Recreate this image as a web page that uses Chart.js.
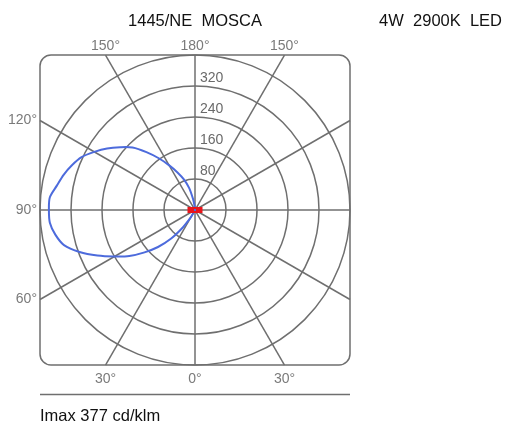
<!DOCTYPE html>
<html>
<head>
<meta charset="utf-8">
<script src="https://cdn.jsdelivr.net/npm/chart.js@4/dist/chart.umd.min.js"></script>
<style>
    html, body { margin: 0; padding: 0; background: #fff; }
    #wrap { width: 505px; height: 426px; }
</style>
</head>
<body>
<div id="wrap"><canvas id="polar" width="505" height="426"></canvas></div>
<script>
/* ================= DATA ================= */
const gammaAngles = [20, 25, 30, 35, 40, 45, 50, 55, 60, 65, 70, 75, 80, 85, 90, 95, 100,
    105, 110, 115, 120, 125, 130, 135, 140, 145, 150, 155, 160, 165, 170, 175, 180];
const intensity = [0, 6, 22, 55, 97, 135, 170, 207, 240, 278, 317, 350, 366, 376, 377, 376, 362,
    351, 338, 323, 300, 277, 252, 228, 195, 163, 133, 107, 84, 59, 28, 8, 0];

const ringValues = [80, 160, 240, 320, 400];
const ringLabels = ["80", "160", "240", "320"];
const spokeAngles = [0, 30, 60, 90, 120, 150, 180, 210, 240, 270, 300, 330];

const titleText = "1445/NE  MOSCA";
const lampText = "4W  2900K  LED";
const imaxText = "Imax 377 cd/klm";

const RMAX = 400;

/* ================= POINTS ================= */
// left half of the C-plane, gamma measured from straight down
const curvePoints = gammaAngles.map((g, i) => {
    const a = g * Math.PI / 180;
    return { x: -intensity[i] * Math.sin(a), y: -intensity[i] * Math.cos(a) };
});

/* ================= GRID PLUGIN ================= */
const gridColor = "#6f6f6f";
const labelColor = "#7a7a7a";

const polarGrid = {
    id: "polarGrid",
    beforeDatasetsDraw(chart) {
        const ctx = chart.ctx;
        const xs = chart.scales.x, ys = chart.scales.y;
        const ca = chart.chartArea;
        const cx = xs.getPixelForValue(0), cy = ys.getPixelForValue(0);

        ctx.save();
        ctx.strokeStyle = gridColor;
        ctx.lineWidth = 1.5;

        // circles
        ringValues.forEach(v => {
            const r = xs.getPixelForValue(v) - cx;
            ctx.beginPath();
            ctx.arc(cx, cy, r, 0, Math.PI * 2);
            ctx.stroke();
        });

        // spokes out to the frame
        spokeAngles.forEach(deg => {
            const a = deg * Math.PI / 180;
            const s = Math.sin(a), c = Math.cos(a);
            const t = RMAX / Math.max(Math.abs(s), Math.abs(c));
            ctx.beginPath();
            ctx.moveTo(cx, cy);
            ctx.lineTo(xs.getPixelForValue(s * t), ys.getPixelForValue(c * t));
            ctx.stroke();
        });

        // frame
        ctx.beginPath();
        ctx.roundRect(ca.left, ca.top, ca.right - ca.left, ca.bottom - ca.top, 11);
        ctx.stroke();

        // ring values
        ctx.fillStyle = "#6a6a6a";
        ctx.font = "14px 'Liberation Sans', Arial, sans-serif";
        ctx.textAlign = "left";
        ctx.textBaseline = "alphabetic";
        ringLabels.forEach((txt, i) => {
            ctx.fillText(txt, cx + 5, ys.getPixelForValue(ringValues[i]) - 4);
        });

        // angle labels
        ctx.fillStyle = labelColor;
        const t30 = RMAX * Math.tan(Math.PI / 6);
        ctx.textAlign = "center";
        ctx.fillText("150°", xs.getPixelForValue(-t30), ca.top - 5);
        ctx.fillText("180°", cx, ca.top - 5);
        ctx.fillText("150°", xs.getPixelForValue(t30), ca.top - 5);
        ctx.textBaseline = "top";
        ctx.fillText("30°", xs.getPixelForValue(-t30), ca.bottom + 7);
        ctx.fillText("0°", cx, ca.bottom + 7);
        ctx.fillText("30°", xs.getPixelForValue(t30), ca.bottom + 7);
        ctx.textAlign = "right";
        ctx.textBaseline = "middle";
        ctx.fillText("120°", ca.left - 3, ys.getPixelForValue(t30));
        ctx.fillText("90°", ca.left - 3, cy);
        ctx.fillText("60°", ca.left - 3, ys.getPixelForValue(-t30));

        // bottom rule
        ctx.beginPath();
        ctx.moveTo(ca.left, 394.5);
        ctx.lineTo(ca.right, 394.5);
        ctx.stroke();

        // texts
        ctx.fillStyle = "#111";
        ctx.font = "16.5px 'Liberation Sans', Arial, sans-serif";
        ctx.textBaseline = "alphabetic";
        ctx.textAlign = "center";
        ctx.fillText(titleText, cx, 26);
        ctx.textAlign = "right";
        ctx.fillText(lampText, 502, 26);
        ctx.textAlign = "left";
        ctx.fillText(imaxText, ca.left, 421);
        ctx.restore();
    },
    afterDatasetsDraw(chart) {
        const ctx = chart.ctx;
        const cx = chart.scales.x.getPixelForValue(0), cy = chart.scales.y.getPixelForValue(0);
        ctx.save();
        ctx.fillStyle = "#e8141b";
        ctx.fillRect(cx - 7.5, cy - 3, 15, 6);
        ctx.fillStyle = "#4d6bdc";
        ctx.fillRect(cx - 1, cy - 1, 2, 2);
        ctx.restore();
    }
};

/* ================= CHART ================= */
new Chart(document.getElementById("polar"), {
    type: "scatter",
    data: {
        datasets: [{
            data: curvePoints,
            showLine: true,
            borderColor: "#4d6bdc",
            borderWidth: 2,
            pointRadius: 0,
            tension: 0.3,
            fill: false
        }]
    },
    options: {
        responsive: false,
        animation: false,
        devicePixelRatio: 1,
        layout: { padding: { left: 40, right: 155, top: 55, bottom: 61 } },
        scales: {
            x: { type: "linear", min: -RMAX, max: RMAX, display: false },
            y: { type: "linear", min: -RMAX, max: RMAX, display: false }
        },
        plugins: {
            legend: { display: false },
            tooltip: { enabled: false }
        }
    },
    plugins: [polarGrid]
});
</script>
</body>
</html>
